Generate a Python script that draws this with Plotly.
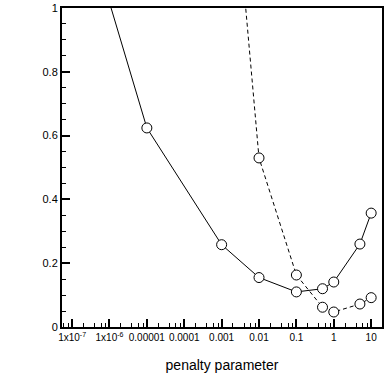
import numpy as np
import plotly.graph_objects as go

# solid series
solid_x = [1e-7, 1e-5, 0.001, 0.01, 0.1, 0.5, 1, 5, 10]
solid_y = [1.41, 0.624, 0.258, 0.155, 0.11, 0.12, 0.141, 0.26, 0.357]

# dashed series
dashed_x = [0.001, 0.01, 0.1, 0.5, 1, 5, 10]
dashed_y = [1.85, 0.53, 0.163, 0.062, 0.047, 0.072, 0.092]

tick_vals = [1e-7, 1e-6, 1e-5, 1e-4, 1e-3, 0.01, 0.1, 1, 10]
tick_text = ["1x10<sup>-7</sup>", "1x10<sup>-6</sup>", "0.00001", "0.0001",
             "0.001", "0.01", "0.1", "1", "10"]

minor_x = [m * d for d in [1e-8, 1e-7, 1e-6, 1e-5, 1e-4, 1e-3, 0.01, 0.1, 1, 10]
           for m in (2, 4, 6, 8)]

marker = dict(symbol="circle", size=10, color="white",
              line=dict(color="black", width=1))

fig = go.Figure()
fig.add_trace(go.Scatter(x=solid_x, y=solid_y, mode="lines+markers",
                         line=dict(color="black", width=1), marker=marker))
fig.add_trace(go.Scatter(x=dashed_x, y=dashed_y, mode="lines+markers",
                         line=dict(color="black", width=1, dash="4px,3px"), marker=marker))

fig.update_layout(
    width=390, height=390,
    margin=dict(l=62, r=8, t=8, b=63),
    plot_bgcolor="white", paper_bgcolor="white",
    showlegend=False,
    font=dict(family="Liberation Sans, Arial, sans-serif", color="black", size=11),
    xaxis=dict(
        type="log", range=[-7.27, 1.29],
        tickmode="array", tickvals=tick_vals, ticktext=tick_text,
        tickangle=0, automargin=False,
        ticks="inside", ticklen=8, tickwidth=1.5, tickcolor="black",
        minor=dict(tickmode="array", tickvals=minor_x, ticks="inside",
                   ticklen=4, tickwidth=1, tickcolor="black", showgrid=False),
        showline=True, linecolor="black", linewidth=2, mirror=True,
        showgrid=False, zeroline=False,
        tickfont=dict(size=10),
        title=dict(text="penalty parameter", font=dict(size=14), standoff=18),
    ),
    yaxis=dict(
        range=[0, 1], automargin=False,
        tickmode="array", tickvals=[0, 0.2, 0.4, 0.6, 0.8, 1],
        ticktext=["0", "0.2", "0.4", "0.6", "0.8", "1"],
        ticks="inside", ticklen=8, tickwidth=1.5, tickcolor="black",
        minor=dict(dtick=0.05, ticks="inside", ticklen=4, tickwidth=1,
                   tickcolor="black", showgrid=False),
        showline=True, linecolor="black", linewidth=2, mirror=True,
        showgrid=False, zeroline=False,
        tickfont=dict(size=11),
    ),
)

fig.write_html("out.html", config={"displayModeBar": False},
               post_script="document.body.style.margin='0';")
